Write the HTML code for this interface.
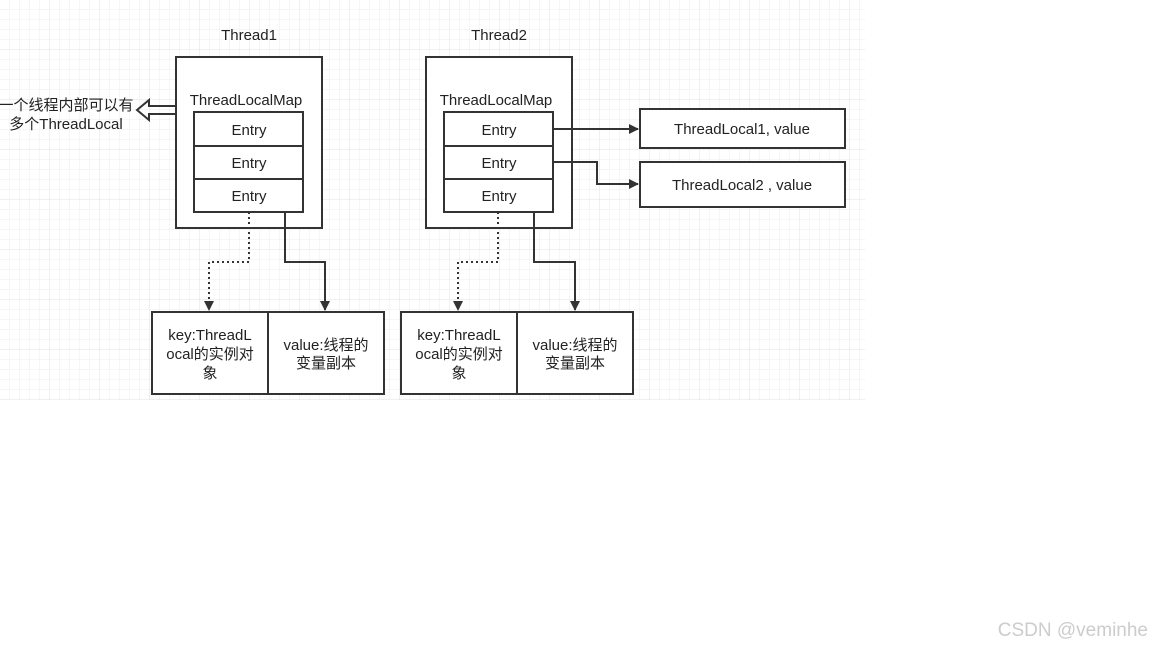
<!DOCTYPE html>
<html><head><meta charset="utf-8"><style>
body{margin:0;width:1152px;height:648px;background:#fff;overflow:hidden;font-family:"Liberation Sans","Noto Sans CJK SC",sans-serif}
</style></head><body>
<svg width="1152" height="648" xmlns="http://www.w3.org/2000/svg" style="position:absolute;left:0;top:0">
<defs>
<pattern id="g" width="10" height="10" patternUnits="userSpaceOnUse"><path d="M10 0V10H0" fill="none" stroke="#eee" stroke-width="1"/></pattern>
<pattern id="G" width="50" height="50" patternUnits="userSpaceOnUse"><path d="M50 0V50H0" fill="none" stroke="#e2e2e2" stroke-width="1"/></pattern>
<marker id="a" markerWidth="10" markerHeight="10" refX="9" refY="5" orient="auto" markerUnits="userSpaceOnUse"><path d="M0 0L10 5L0 10z" fill="#333"/></marker>
</defs>
<rect x="0" y="0" width="865" height="400" fill="url(#g)"/>
<rect x="0" y="0" width="865" height="400" fill="url(#G)"/>
<g fill="#fff" stroke="#333" stroke-width="2">
<rect x="176" y="57" width="146" height="171"/>
<rect x="426" y="57" width="146" height="171"/>
<rect x="194" y="112" width="109" height="34"/><rect x="194" y="146" width="109" height="33"/><rect x="194" y="179" width="109" height="33"/>
<rect x="444" y="112" width="109" height="34"/><rect x="444" y="146" width="109" height="33"/><rect x="444" y="179" width="109" height="33"/>
<rect x="640" y="109" width="205" height="39"/><rect x="640" y="162" width="205" height="45"/>
<rect x="152" y="312" width="116" height="82"/><rect x="268" y="312" width="116" height="82"/>
<rect x="401" y="312" width="116" height="82"/><rect x="517" y="312" width="116" height="82"/>
</g>
<g fill="none" stroke="#333" stroke-width="2">
<path d="M249 212V262H209V310" stroke-dasharray="2,3" marker-end="url(#a)"/>
<path d="M285 212V262H325V310" marker-end="url(#a)"/>
<path d="M498 212V262H458V310" stroke-dasharray="2,3" marker-end="url(#a)"/>
<path d="M534 212V262H575V310" marker-end="url(#a)"/>
<path d="M553 129H638" marker-end="url(#a)"/>
<path d="M553 162H597V184H638" marker-end="url(#a)"/>
<path d="M176 106H149V100L137 110L149 120V114H176"/>
</g>
<g font-size="15" fill="#222" text-anchor="middle">
<text x="249" y="40">Thread1</text><text x="499" y="40">Thread2</text>
<text x="246" y="105">ThreadLocalMap</text><text x="496" y="105">ThreadLocalMap</text>
<text x="249" y="135">Entry</text><text x="249" y="168">Entry</text><text x="249" y="201">Entry</text>
<text x="499" y="135">Entry</text><text x="499" y="168">Entry</text><text x="499" y="201">Entry</text>
<text x="742" y="134">ThreadLocal1, value</text><text x="742" y="190">ThreadLocal2 , value</text>
<text x="210" y="340">key:ThreadL</text><text x="210" y="359">ocal的实例对</text><text x="210" y="378">象</text>
<text x="326" y="350">value:线程的</text><text x="326" y="368">变量副本</text>
<text x="459" y="340">key:ThreadL</text><text x="459" y="359">ocal的实例对</text><text x="459" y="378">象</text>
<text x="575" y="350">value:线程的</text><text x="575" y="368">变量副本</text>
<text x="66" y="110">一个线程内部可以有</text><text x="66" y="129">多个ThreadLocal</text>
</g>
<text x="1148" y="636" font-size="19" fill="#ccc" text-anchor="end">CSDN @veminhe</text>
</svg>
</body></html>
